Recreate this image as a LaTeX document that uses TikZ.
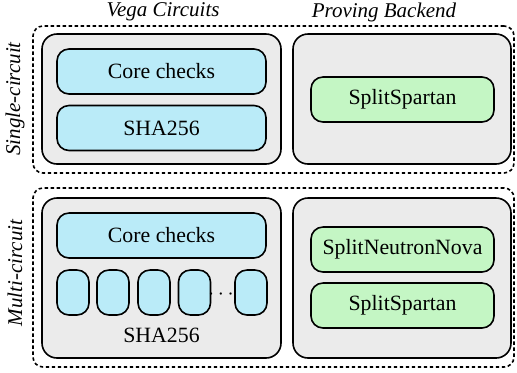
\documentclass[tikz,border=0pt]{standalone}
\usepackage{fontspec}
\setmainfont{Liberation Serif}
\usetikzlibrary{positioning}
\definecolor{colgrey}{RGB}{235,235,235}
\definecolor{colblue}{RGB}{186,235,248}
\definecolor{colgreen}{RGB}{196,246,196}
\tikzset{
  group/.style = {draw, dash pattern=on 1.7pt off 1.3pt, rounded corners=5pt, line width=0.8pt, inner sep=0pt},
  panel/.style = {draw, fill=colgrey, rounded corners=7.5pt, line width=0.8pt, inner sep=0pt},
  circ/.style = {draw, fill=colblue, rounded corners=6pt, line width=0.8pt, inner sep=0pt, minimum height=22.5pt},
  prover/.style = {draw, fill=colgreen, rounded corners=6pt, line width=0.8pt, inner sep=0pt, minimum width=91.5pt, minimum height=22.5pt},
  title/.style = {font=\fontsize{10.5}{12.6}\selectfont\itshape, inner sep=0pt}
}

\begin{document}
\begin{tikzpicture} [x=0.5pt, y=-0.5pt, font=\fontsize{10.9}{13}\selectfont]
\useasboundingbox (0,0) rectangle (517,372);
% column and row titles
\node (tv) [title] at (163,12) {Vega Circuits};
\node (tp) [title] at (384,12) {Proving Backend};
\node (ts) [title, rotate=90] at (15,99) {Single-circuit};
\node (tm) [title, rotate=90] at (15,273) {Multi-circuit};
% single-circuit row
\node (g1) [group, minimum width=240.5pt, minimum height=73.5pt] at (273.5,99.5) {};
\node (c1) [panel, minimum width=119.5pt, minimum height=65pt] at (161.5,99) {};
\node (p1) [panel, minimum width=109pt, minimum height=65pt] at (402,99) {};
\node (core1) [circ, minimum width=104.5pt] at (161.5,71.5) {Core checks};
\node (sha1) [circ, minimum width=104.5pt] at (161.5,128) {SHA256};
\node (ss1) [prover] at (402.5,99.5) {SplitSpartan};
% multi-circuit row
\node (g2) [group, minimum width=240.5pt, minimum height=89.5pt] at (273.5,277.5) {};
\node (c2) [panel, minimum width=119.5pt, minimum height=80pt] at (161.5,278) {};
\node (p2) [panel, minimum width=109pt, minimum height=80pt] at (402,278) {};
\node (core2) [circ, minimum width=104.5pt] at (161.5,235.5) {Core checks};
\foreach \x [count=\i] in {73,113,154,194.5,251}
  \node (h\i) [circ, minimum width=16pt] at (\x,292.5) {};
\node (dots) at (221,295) {$\cdots$};
\node (sha2) at (161.5,335) {SHA256};
\node (snn) [prover] at (402.5,249.5) {SplitNeutronNova};
\node (ss2) [prover] at (402.5,305.5) {SplitSpartan};
\end{tikzpicture}
\end{document}
